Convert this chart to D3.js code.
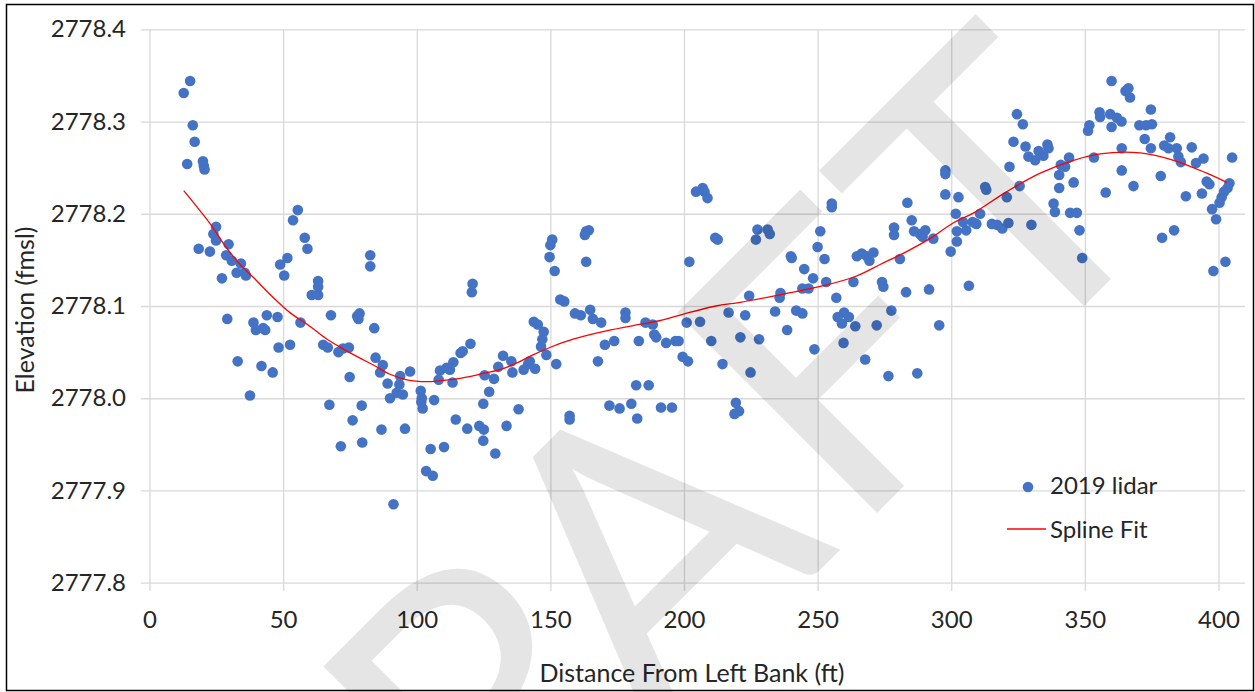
<!DOCTYPE html>
<html>
<head>
<meta charset="utf-8">
<script src="https://cdnjs.cloudflare.com/ajax/libs/d3/7.8.5/d3.min.js"></script>
<style>
    html, body { margin: 0; padding: 0; background: #fff; }
    svg { display: block; font-family: Lato, "Open Sans", sans-serif; }
</style>
</head>
<body>
<svg id="chart" width="1255" height="692"></svg>
<script>
// axis ticks
const xTicks = [0, 50, 100, 150, 200, 250, 300, 350, 400];
const yTicks = [2777.8, 2777.9, 2778.0, 2778.1, 2778.2, 2778.3, 2778.4];
const seriesNames = ["2019 lidar", "Spline Fit"];

// 2019 lidar points: [distance ft, elevation fmsl]
const lidarPoints = [
    [15.2, 2778.344], [12.8, 2778.331], [16.2, 2778.296], [16.9, 2778.278], [14.1, 2778.254],
    [20.0, 2778.257], [20.3, 2778.252], [20.6, 2778.248], [24.9, 2778.186], [23.9, 2778.178],
    [24.9, 2778.171], [18.4, 2778.162], [22.6, 2778.159], [29.6, 2778.167], [28.7, 2778.155],
    [30.8, 2778.149], [34.2, 2778.146], [32.6, 2778.136], [36.1, 2778.133], [27.1, 2778.130],
    [35.6, 2778.136], [29.1, 2778.086], [38.9, 2778.082], [39.8, 2778.074], [43.3, 2778.074],
    [43.9, 2778.090], [42.5, 2778.076], [47.9, 2778.088], [48.3, 2778.055], [52.6, 2778.058],
    [55.5, 2778.204], [53.7, 2778.193], [58.1, 2778.174], [59.1, 2778.162], [51.6, 2778.152],
    [48.9, 2778.145], [50.4, 2778.133], [63.1, 2778.127], [63.1, 2778.121], [60.7, 2778.112],
    [63.1, 2778.112], [56.5, 2778.082], [67.9, 2778.090], [33.0, 2778.040], [41.9, 2778.035],
    [46.1, 2778.028], [37.6, 2778.003], [65.0, 2778.058], [66.7, 2778.055], [70.7, 2778.050],
    [72.4, 2778.054], [74.6, 2778.055], [74.9, 2778.023], [67.3, 2777.993], [76.0, 2777.976],
    [71.6, 2777.948], [77.7, 2778.089],
    [79.4, 2777.992], [79.6, 2777.952], [82.6, 2778.155], [82.6, 2778.143], [78.6, 2778.092],
    [78.2, 2778.086], [84.1, 2778.076], [84.6, 2778.044], [87.3, 2778.036], [86.3, 2778.028],
    [89.1, 2778.016], [90.0, 2778.000], [86.8, 2777.966], [91.3, 2777.885], [93.8, 2778.024],
    [93.5, 2778.015], [92.5, 2778.006], [94.8, 2778.004], [97.5, 2778.029], [95.6, 2777.967],
    [101.5, 2778.008], [101.9, 2778.000], [102.2, 2777.989], [101.7, 2777.996], [106.5, 2777.998],
    [105.2, 2777.945], [110.2, 2777.947], [103.5, 2777.921], [106.0, 2777.916], [108.2, 2778.020],
    [108.7, 2778.030], [111.2, 2778.033], [112.4, 2778.031], [113.7, 2778.039], [113.4, 2778.017],
    [116.4, 2778.049], [117.2, 2778.051], [120.1, 2778.059], [120.9, 2778.124], [120.6, 2778.115],
    [114.6, 2777.977], [118.9, 2777.967], [123.4, 2777.970], [125.1, 2777.966], [124.9, 2777.954],
    [124.9, 2777.994], [125.4, 2778.025], [127.1, 2778.007], [128.9, 2778.021], [129.4, 2777.940],
    [130.5, 2778.034], [132.3, 2778.046], [133.6, 2777.970], [135.4, 2778.040], [135.8, 2778.028],
    [138.1, 2777.988], [140.0, 2778.031], [141.7, 2778.037], [142.3, 2778.040], [144.3, 2778.032],
    [143.8, 2778.083], [145.3, 2778.080], [147.5, 2778.072], [147.0, 2778.064], [146.5, 2778.056],
    [148.5, 2778.047], [152.2, 2778.037], [150.7, 2778.172], [150.0, 2778.166], [149.7, 2778.153],
    [151.6, 2778.138], [153.7, 2778.107],
    [155.2, 2778.105], [163.4, 2778.181], [164.4, 2778.182], [162.9, 2778.177], [163.4, 2778.148],
    [159.2, 2778.092], [161.4, 2778.090], [164.9, 2778.096], [165.9, 2778.086], [169.0, 2778.082],
    [178.1, 2778.093], [178.1, 2778.087], [170.4, 2778.058], [173.9, 2778.062], [167.8, 2778.040],
    [183.1, 2778.062], [185.6, 2778.082], [188.3, 2778.080], [188.9, 2778.069], [189.6, 2778.066],
    [193.3, 2778.060], [196.8, 2778.062], [198.0, 2778.062], [199.5, 2778.045], [201.5, 2778.040],
    [201.0, 2778.082], [206.0, 2778.083], [202.0, 2778.148], [157.2, 2777.981], [157.2, 2777.977],
    [172.1, 2777.992], [175.9, 2777.989], [180.3, 2777.994], [182.5, 2777.978], [182.1, 2778.014],
    [186.8, 2778.014], [191.4, 2777.990], [195.5, 2777.990], [204.5, 2778.224], [207.0, 2778.228],
    [207.7, 2778.224], [208.8, 2778.217], [211.7, 2778.174], [212.6, 2778.172], [210.2, 2778.062],
    [214.4, 2778.037], [216.7, 2778.093], [222.9, 2778.090], [221.1, 2778.066], [224.4, 2778.111],
    [224.9, 2778.028], [219.4, 2777.995], [220.6, 2777.986], [218.9, 2777.983], [227.5, 2778.183],
    [226.9, 2778.172], [228.1, 2778.064],
    [231.3, 2778.183], [232.1, 2778.178], [234.1, 2778.094], [236.1, 2778.114], [235.8, 2778.109],
    [238.6, 2778.074], [240.0, 2778.154], [240.3, 2778.152], [242.0, 2778.095], [244.3, 2778.092],
    [244.3, 2778.119], [246.6, 2778.119], [245.0, 2778.140], [248.3, 2778.130], [248.8, 2778.053],
    [250.0, 2778.164], [251.0, 2778.181], [252.6, 2778.151], [253.2, 2778.126], [255.3, 2778.211],
    [255.3, 2778.207], [257.0, 2778.109], [257.5, 2778.088], [259.9, 2778.093], [259.1, 2778.081],
    [261.7, 2778.088], [259.7, 2778.060], [264.1, 2778.078], [263.4, 2778.126], [264.7, 2778.154],
    [266.5, 2778.157], [268.4, 2778.154], [269.4, 2778.149], [270.9, 2778.158], [267.8, 2778.042],
    [272.1, 2778.079], [274.1, 2778.126], [274.6, 2778.121], [276.5, 2778.024], [277.6, 2778.095],
    [278.6, 2778.185], [278.6, 2778.177], [280.8, 2778.151], [283.1, 2778.115], [283.6, 2778.212],
    [285.2, 2778.193], [286.1, 2778.181], [287.3, 2778.027], [288.3, 2778.178], [289.3, 2778.175],
    [290.3, 2778.182], [291.7, 2778.118], [293.3, 2778.173], [295.5, 2778.079], [297.8, 2778.247],
    [297.8, 2778.243], [297.8, 2778.221], [299.8, 2778.159],
    [302.7, 2778.218], [301.7, 2778.200], [302.1, 2778.181], [302.1, 2778.170], [304.4, 2778.191],
    [305.6, 2778.182], [306.6, 2778.122], [308.0, 2778.191], [309.4, 2778.189], [310.8, 2778.200],
    [312.7, 2778.229], [313.1, 2778.226], [315.2, 2778.189], [317.1, 2778.188], [319.1, 2778.184],
    [320.8, 2778.218], [321.4, 2778.190], [321.8, 2778.251], [323.3, 2778.278], [324.6, 2778.308],
    [326.8, 2778.297], [325.6, 2778.230], [327.8, 2778.273], [328.9, 2778.262], [330.0, 2778.188],
    [331.4, 2778.258], [332.7, 2778.268], [334.5, 2778.263], [336.0, 2778.275], [336.4, 2778.271],
    [338.3, 2778.211], [338.8, 2778.202], [340.4, 2778.242], [340.4, 2778.228], [341.0, 2778.253],
    [342.6, 2778.251], [344.1, 2778.261], [344.5, 2778.201], [345.8, 2778.234], [347.0, 2778.201],
    [348.0, 2778.182], [349.0, 2778.152], [351.2, 2778.290], [351.7, 2778.296], [353.4, 2778.261],
    [355.5, 2778.310], [355.7, 2778.305], [357.8, 2778.223], [359.5, 2778.308], [360.0, 2778.344],
    [360.0, 2778.294], [362.0, 2778.304], [363.7, 2778.300], [363.8, 2778.271], [363.8, 2778.247],
    [365.2, 2778.333], [366.3, 2778.336], [366.9, 2778.326], [368.2, 2778.230], [370.4, 2778.296],
    [372.9, 2778.296], [372.4, 2778.281], [374.7, 2778.313], [375.1, 2778.297], [374.7, 2778.271],
    [378.4, 2778.241], [378.9, 2778.174], [379.7, 2778.274], [381.9, 2778.283], [381.3, 2778.271],
    [383.4, 2778.182], [384.4, 2778.271], [385.0, 2778.262], [385.9, 2778.256], [387.8, 2778.219],
    [390.0, 2778.272], [391.6, 2778.255], [394.4, 2778.260], [393.8, 2778.222], [395.6, 2778.235],
    [396.6, 2778.232], [397.6, 2778.205], [398.1, 2778.138], [399.1, 2778.194], [400.4, 2778.212],
    [401.2, 2778.218], [402.1, 2778.224], [402.6, 2778.148], [403.4, 2778.228], [404.1, 2778.233],
    [405.1, 2778.261]
];

// spline fit
const splineDist = [12.8, 18.7, 23.0, 28.6, 33.6, 39.2, 46.0, 52.9, 59.1, 65.9, 72.1, 78.4,
    83.8, 90.0, 96.3, 103.7, 108.7, 114.9, 123.6, 131.1, 137.3, 143.5, 149.8, 158.5,
    170.9, 183.3, 190.8, 199.5, 211.9, 221.1, 237.3, 252.2, 264.1, 273.4, 283.3, 292.0,
    300.7, 308.4, 320.8, 333.3, 345.8, 355.7, 370.7, 383.2, 395.6, 403.1];
const splineElev = [2778.225, 2778.204, 2778.188, 2778.164, 2778.146, 2778.130, 2778.110, 2778.092,
    2778.080, 2778.065, 2778.054, 2778.044, 2778.036, 2778.026, 2778.020, 2778.018, 2778.019,
    2778.021, 2778.026, 2778.031, 2778.038, 2778.047, 2778.055, 2778.064, 2778.073, 2778.080,
    2778.084, 2778.091, 2778.100, 2778.104, 2778.113, 2778.122, 2778.132, 2778.145, 2778.159,
    2778.173, 2778.190, 2778.201, 2778.224, 2778.244, 2778.258, 2778.265, 2778.266, 2778.258,
    2778.244, 2778.234];

const watermark = "DRAFT";

const svg = d3.select("#chart");
const textColor = "#262626";
const gridColor = "#d9d9d9";

svg.append("rect")
    .attr("width", 1255).attr("height", 692)
    .attr("fill", "#fff");

const x = d3.scaleLinear().domain([0, 410]).range([149.5, 1245.2]);
const y = d3.scaleLinear().domain([2777.8, 2778.4]).range([582.7, 29.3]);

// y gridlines + labels
const yAxis = svg.append("g")
    .attr("transform", "translate(141,0)")
    .call(d3.axisLeft(y).tickValues(yTicks).tickFormat(d3.format(".1f"))
        .tickSizeInner(-(1245 - 141)).tickSizeOuter(0).tickPadding(15));
yAxis.select(".domain").remove();
yAxis.selectAll("line").attr("stroke", gridColor).attr("stroke-width", 1.3);
yAxis.selectAll("text")
    .attr("fill", textColor)
    .style("font-size", "24px")
    .style("font-family", "Lato, sans-serif");

// x gridlines + labels
const xAxis = svg.append("g")
    .attr("transform", "translate(0,591)")
    .call(d3.axisBottom(x).tickValues(xTicks)
        .tickSizeInner(-(591 - 29.3)).tickSizeOuter(0).tickPadding(20));
xAxis.select(".domain").remove();
xAxis.selectAll("line").attr("stroke", gridColor).attr("stroke-width", 1.3);
xAxis.selectAll("text")
    .attr("fill", textColor)
    .style("font-size", "24px")
    .style("font-family", "Lato, sans-serif");

// spline
const line = d3.line()
    .x((d, i) => x(splineDist[i]))
    .y((d, i) => y(splineElev[i]))
    .curve(d3.curveCatmullRom);

// points
svg.append("g")
    .selectAll("circle")
    .data(lidarPoints)
    .enter().append("circle")
    .attr("cx", d => x(d[0]))
    .attr("cy", d => y(d[1]))
    .attr("r", 5.3)
    .attr("fill", "#4472c4");

svg.append("path")
    .datum(splineDist)
    .attr("d", line)
    .attr("fill", "none")
    .attr("stroke", "#ff0000")
    .attr("stroke-width", 1.3);

// axis titles
svg.append("text")
    .attr("x", 692).attr("y", 682)
    .attr("text-anchor", "middle")
    .attr("fill", textColor)
    .style("font-size", "25px")
    .text("Distance From Left Bank (ft)");

svg.append("text")
    .attr("transform", "translate(34,310) rotate(-90)")
    .attr("text-anchor", "middle")
    .attr("fill", textColor)
    .style("font-size", "25px")
    .text("Elevation (fmsl)");

// legend
const legend = svg.append("g");
legend.append("circle")
    .attr("cx", 1028).attr("cy", 487).attr("r", 5.3)
    .attr("fill", "#4472c4");
legend.append("text")
    .attr("x", 1050).attr("y", 494)
    .attr("fill", textColor)
    .style("font-size", "24px")
    .text(seriesNames[0]);
legend.append("line")
    .attr("x1", 1007).attr("x2", 1046)
    .attr("y1", 529).attr("y2", 529)
    .attr("stroke", "#ff0000").attr("stroke-width", 1.3);
legend.append("text")
    .attr("x", 1050).attr("y", 538)
    .attr("fill", textColor)
    .style("font-size", "24px")
    .text(seriesNames[1]);

// DRAFT watermark over the chart
const letterOffsets = [-450, -155, 73, 333, 569];
const wm = svg.append("g")
    .attr("transform", "translate(695,695) rotate(-45)")
    .attr("fill", "#000")
    .attr("fill-opacity", 0.1);
wm.selectAll("text")
    .data(watermark.split(""))
    .enter().append("text")
    .attr("x", (d, i) => letterOffsets[i])
    .attr("y", 0)
    .attr("text-anchor", "middle")
    .style("font-size", "395px")
    .text(d => d);

// outer border
svg.append("rect")
    .attr("x", 6.5).attr("y", 4.5)
    .attr("width", 1247).attr("height", 686)
    .attr("fill", "none")
    .attr("stroke", "#000")
    .attr("stroke-width", 1.5);
</script>
</body>
</html>
